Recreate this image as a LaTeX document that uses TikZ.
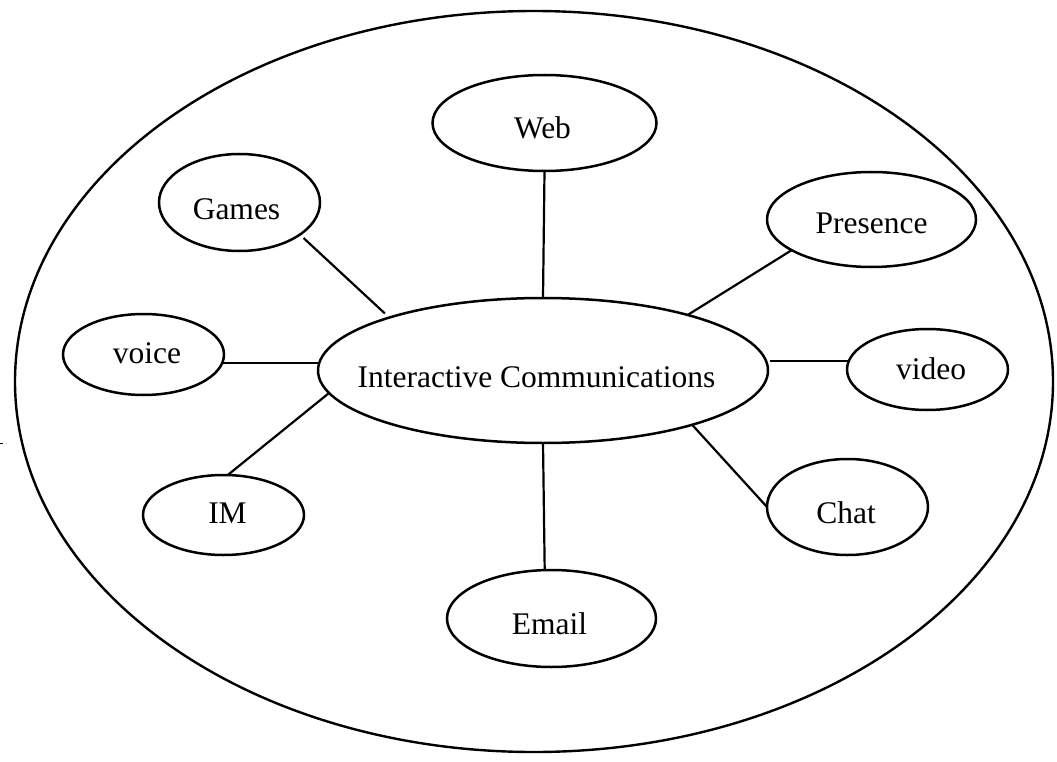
\documentclass[tikz,border=0pt]{standalone}
\usepackage{fontspec}
\setmainfont{Liberation Serif}
\usetikzlibrary{shapes.geometric}
\newcommand{\lbl}[3]{\makebox[0pt]{\hspace*{#1}\hspace*{#1}\raisebox{-#2}[21pt][0pt]{#3}}}
\tikzset{
  bubble/.style={ellipse, draw, line width=2.5pt, inner sep=0pt, outer sep=0pt,
    text height=21pt, text depth=0pt, font=\fontsize{31.5}{36}\selectfont},
  link/.style={line width=2.2pt},
}
\begin{document}
\begin{tikzpicture}[x=1pt,y=-1pt]
\useasboundingbox (0,0) rectangle (1057,762);
% outer ellipse
\node[ellipse, draw, line width=2.4pt, inner sep=0pt, minimum width=1038pt, minimum height=741pt] (outer) at (534,381.5) {};
% nodes
\node[bubble, minimum width=450pt, minimum height=145pt] (ic) at (543,370.5) {\lbl{-6.5pt}{6.5pt}{Interactive Communications}};
\node[bubble, minimum width=224pt, minimum height=96pt] (web) at (544.5,123) {\lbl{-2pt}{5.5pt}{Web}};
\node[bubble, minimum width=161pt, minimum height=97pt] (games) at (239.5,202.5) {\lbl{-3pt}{6.5pt}{Games}};
\node[bubble, minimum width=209pt, minimum height=95pt] (presence) at (871.5,219.5) {\lbl{0pt}{3.5pt}{Presence}};
\node[bubble, minimum width=161pt, minimum height=81pt] (voice) at (143.5,354.5) {\lbl{3.5pt}{-2pt}{voice}};
\node[bubble, minimum width=161pt, minimum height=81pt] (video) at (927.5,369.5) {\lbl{3.5pt}{-1pt}{video}};
\node[bubble, minimum width=161pt, minimum height=80pt] (im) at (223.5,515) {\lbl{4pt}{-2.5pt}{IM}};
\node[bubble, minimum width=161pt, minimum height=96pt] (chat) at (847.5,507) {\lbl{-1.5pt}{5.5pt}{Chat}};
\node[bubble, minimum width=209pt, minimum height=97pt] (email) at (551.5,618.5) {\lbl{-2pt}{5.5pt}{Email}};
% connectors
\draw[link] (web.south) -- (ic.north);
\draw[link, shorten <=5pt, shorten >=6pt] (games.-28) -- (ic.161.6);
\draw[link] (presence.201) -- (ic.21.8);
\draw[link] (voice.-6) -- (voice.-6 -| ic.west);
\draw[link, shorten >=2pt] (video.174.3) -- (video.174.3 -| ic.east);
\draw[link] (im.84) -- (ic.186.6);
\draw[link] (chat.west) -- (ic.-20.9);
\draw[link] (email.98) -- (ic.south);
% stray tick at left edge
\coordinate (tick) at (0,443);
\draw[line width=1pt] (tick) -- ++(3,0);
\end{tikzpicture}
\end{document}
